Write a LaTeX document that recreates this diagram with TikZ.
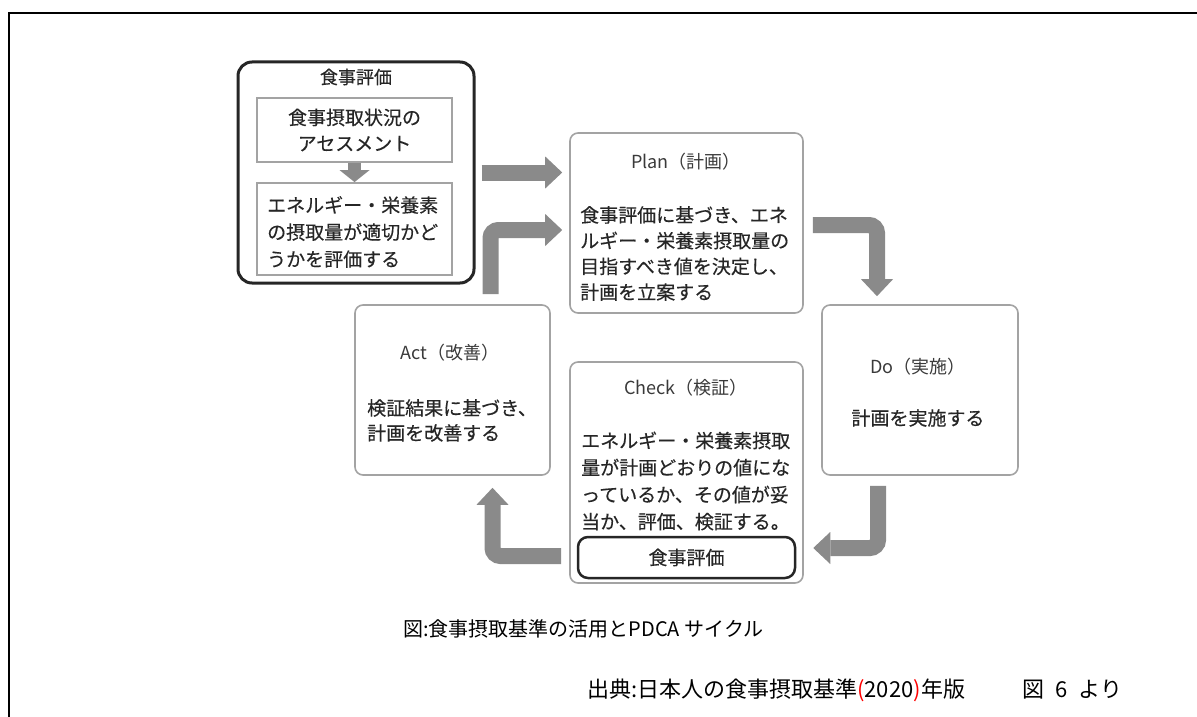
\documentclass[tikz,border=0pt]{standalone}
\usepackage{fontspec}
\setmainfont{Noto Sans CJK JP}
\newfontfamily\bodyfont{Noto Sans CJK JP}[FakeBold=0.35]
\usetikzlibrary{arrows.meta,calc}
\definecolor{arrowgray}{HTML}{8A8A8A}
\definecolor{boxgray}{HTML}{A3A3A3}
\definecolor{txt}{HTML}{262626}
\definecolor{ttltxt}{HTML}{3A3A3A}
\tikzset{
  pdca/.style={draw=boxgray, line width=1.6pt, rounded corners=8pt, fill=white, inner sep=0pt},
  evalouter/.style={draw=black!85, line width=3pt, rounded corners=14pt, inner sep=0pt},
  innerbox/.style={draw=boxgray, line width=1.8pt, inner sep=0pt},
  evalsmall/.style={draw=black!85, line width=2.5pt, rounded corners=10pt, inner sep=0pt},
  blockarrow/.style={draw=arrowgray, line width=16pt, rounded corners=8pt,
    -{Triangle[length=17pt 0 0, width=32pt 0 0, line width=0pt 0 0]}},
  smallarrow/.style={draw=arrowgray, line width=13pt,
    -{Triangle[length=12pt 0 0, width=30pt 0 0, line width=0pt 0 0]}},
  ttl/.style={font=\fontsize{18}{22}\selectfont, text=ttltxt, inner sep=0pt},
  body/.style={font=\bodyfont\fontsize{19}{26}\selectfont, text=txt, align=left, inner sep=0pt},
  caption/.style={text=black, inner sep=0pt, anchor=west}
}
\begin{document}
\begin{tikzpicture}[x=1pt,y=-1pt]
\useasboundingbox (0,0) rectangle (1197,717);
% frame
\draw[line width=2.2pt] (9,717) -- (9,13) -- (1197,13);

% top-left evaluation box
\node[evalouter, minimum width=236pt, minimum height=221pt] (evalbox) at (356,172.5) {};
\node[ttl, font=\bodyfont\fontsize{18}{22}\selectfont, text=txt] (evaltitle) at (356,77) {食事評価};
\node[innerbox, minimum width=195pt, minimum height=64pt] (box1) at (354.5,130) {};
\node[innerbox, minimum width=195pt, minimum height=92pt] (box2) at (354.5,229) {};
\node[body, align=center] (box1text) at (box1) {食事摂取状況の\\アセスメント};
\node[body, anchor=west, font=\bodyfont\fontsize{19}{27}\selectfont] (box2text) at (267,232) {エネルギー・栄養素\\の摂取量が適切かど\\うかを評価する};
\draw[smallarrow] (box1.south) -- (box2.north);

% PDCA boxes
\node[pdca, minimum width=233pt, minimum height=180pt] (plan) at (686.5,223) {};
\node[pdca, minimum width=196pt, minimum height=170pt] (do) at (920,390) {};
\node[pdca, minimum width=233pt, minimum height=221pt] (check) at (686.5,472.5) {};
\node[pdca, minimum width=195pt, minimum height=170pt] (act) at (452.5,390) {};
\node[evalsmall, minimum width=217pt, minimum height=41pt] (checkeval) at (686.5,557.5) {};

% texts
\node[ttl] (plantitle) at (686,162) {Plan（計画）};
\node[body, anchor=west, font=\bodyfont\fontsize{19}{25.7}\selectfont] (plantext) at (580,253.5) {食事評価に基づき、エネ\\ルギー・栄養素摂取量の\\目指すべき値を決定し、\\計画を立案する};
\node[ttl] (dotitle) at (918,367) {Do（実施）};
\node[body] (dotext) at (918,418) {計画を実施する};
\node[ttl] (checktitle) at (686,388) {Check（検証）};
\node[body, anchor=west, font=\bodyfont\fontsize{19}{27}\selectfont] (checktext) at (581,481) {エネルギー・栄養素摂取\\量が計画どおりの値にな\\っているか、その値が妥\\当か、評価、検証する。};
\node[body] (checkevaltext) at (checkeval) {食事評価};
\node[ttl] (acttitle) at (450,353) {Act（改善）};
\node[body, anchor=west, font=\bodyfont\fontsize{19}{25}\selectfont] (acttext) at (367,420.5) {検証結果に基づき、\\計画を改善する};

% arrows
\draw[blockarrow] ($(evalbox.east)+(6,0)$) -- ($(evalbox.east -| plan.west)+(-7,0)$);
\draw[blockarrow] ($(act.north)+(38,-10)$) |- ($(plan.west)+(-7,7)$);
\draw[blockarrow] ($(plan.east)+(9,2)$) -| ($(do.north)+(-43,-8)$);
\draw[blockarrow] ($(do.south)+(-42,10)$) |- ($(checkeval.east)+(17,-9.5)$);
\draw[blockarrow] ($(check.west)+(-8,83.5)$) -| ($(act.south)+(40,12)$);

% captions
\node[caption, font=\fontsize{20}{24}\selectfont] (cap) at (403,629) {図:食事摂取基準の活用とPDCA サイクル};
\node[caption, font=\fontsize{22}{26}\selectfont] (src) at (587,690) {出典:日本人の食事摂取基準\textcolor{red}{(}2020\textcolor{red}{)}年版\hspace{2.6em}図\hspace{0.5em}6\hspace{0.5em}より};
\end{tikzpicture}
\end{document}
